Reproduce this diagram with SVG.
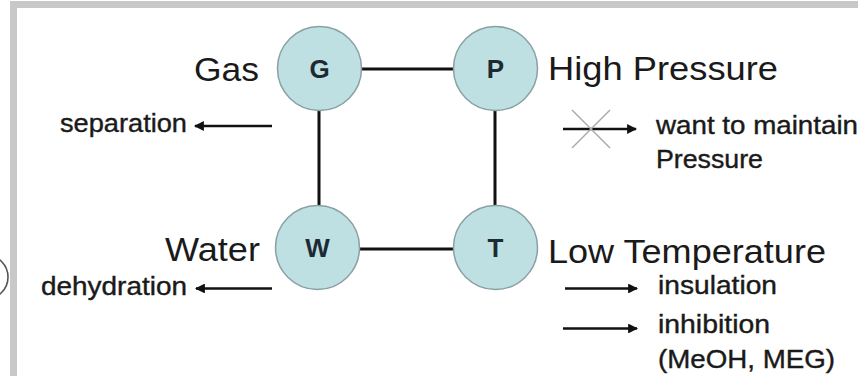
<svg xmlns="http://www.w3.org/2000/svg" width="862" height="376" viewBox="0 0 862 376">
<defs>
<style>
.node circle{fill:#bfe0e3;stroke:#8aa0a3;stroke-width:1.5}
.node text{font-family:"Liberation Sans",Arial,sans-serif;font-weight:bold;font-size:26px;fill:#1c2b33;text-anchor:middle}
.big{font-family:"Liberation Sans",Arial,sans-serif;font-size:33px;fill:#1a1a1a}
.small{font-family:"Liberation Sans",Arial,sans-serif;font-size:26px;fill:#1a1a1a;stroke:#1a1a1a;stroke-width:0.4}
.edge{stroke:#111;stroke-width:3;fill:none}
.arr{stroke:#111;stroke-width:2.6;fill:none;marker-end:url(#ah)}
</style>
<marker id="ah" viewBox="0 0 10 10" refX="9" refY="5" markerWidth="4.4" markerHeight="3.8" orient="auto" markerUnits="strokeWidth">
<path d="M0,0 L10,5 L0,10 z" fill="#111"/>
</marker>
</defs>
<rect width="862" height="376" fill="#ffffff"/>
<g id="frame" fill="#c8c8c8">
<rect x="10" y="1" width="848" height="7"/>
<rect x="10" y="1" width="7" height="375"/>
</g>
<g id="partial-node">
<circle cx="-14" cy="277" r="22" fill="#ffffff" stroke="#555" stroke-width="1.6"/>
</g>
<g id="connectors">
<line class="edge" x1="361" y1="69" x2="454" y2="69"/>
<line class="edge" x1="359" y1="249" x2="454" y2="249"/>
<line class="edge" x1="319" y1="110" x2="319" y2="206"/>
<line class="edge" x1="495" y1="110" x2="495" y2="206"/>
<line class="arr" x1="272" y1="126" x2="195" y2="126"/>
<line class="arr" x1="272" y1="288.5" x2="196" y2="288.5"/>
<line class="arr" x1="563" y1="129" x2="636" y2="129"/>
<line class="arr" x1="565" y1="288.5" x2="637" y2="288.5"/>
<line class="arr" x1="563" y1="328.5" x2="637" y2="328.5"/>
<g id="cross" stroke="#aaaaaa" stroke-width="1.5">
<line x1="572" y1="110" x2="610" y2="148"/>
<line x1="610" y1="110" x2="572" y2="148"/>
</g>
</g>
<g id="node-G" class="node"><circle cx="319.5" cy="68.5" r="42"/><text x="319.5" y="78">G</text></g>
<g id="node-P" class="node"><circle cx="495.5" cy="68.5" r="42"/><text x="495.5" y="78">P</text></g>
<g id="node-W" class="node"><circle cx="317.5" cy="247.5" r="42"/><text x="317.5" y="257">W</text></g>
<g id="node-T" class="node"><circle cx="495.5" cy="247.5" r="42"/><text x="495.5" y="257">T</text></g>
<g id="labels">
<text class="big" x="194" y="81" textLength="65" lengthAdjust="spacingAndGlyphs">Gas</text>
<text class="big" x="165" y="261" textLength="95" lengthAdjust="spacingAndGlyphs">Water</text>
<text class="big" x="548" y="80" textLength="230" lengthAdjust="spacingAndGlyphs">High Pressure</text>
<text class="big" x="548" y="263" textLength="278" lengthAdjust="spacingAndGlyphs">Low Temperature</text>
<text class="small" x="60" y="131.5" textLength="127" lengthAdjust="spacingAndGlyphs">separation</text>
<text class="small" x="41" y="295" textLength="146" lengthAdjust="spacingAndGlyphs">dehydration</text>
<text class="small" x="656" y="134" textLength="202" lengthAdjust="spacingAndGlyphs">want to maintain</text>
<text class="small" x="656" y="168" textLength="107" lengthAdjust="spacingAndGlyphs">Pressure</text>
<text class="small" x="658" y="294" textLength="119" lengthAdjust="spacingAndGlyphs">insulation</text>
<text class="small" x="658" y="333" textLength="112" lengthAdjust="spacingAndGlyphs">inhibition</text>
<text class="small" x="658" y="368" textLength="177" lengthAdjust="spacingAndGlyphs">(MeOH, MEG)</text>
</g>
</svg>
